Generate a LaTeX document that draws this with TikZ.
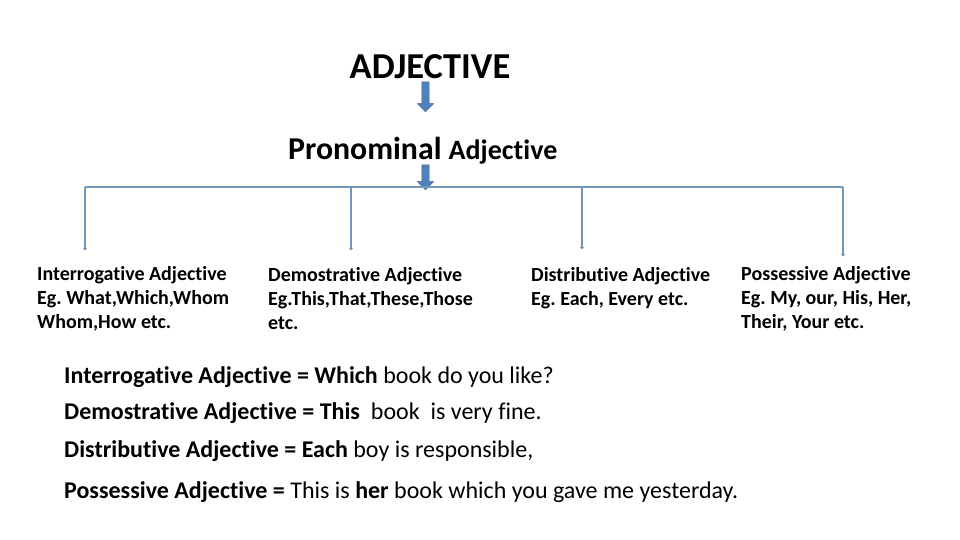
\documentclass[tikz,border=0pt]{standalone}
\usepackage{fontspec}
\setmainfont{Carlito}[Ligatures = {NoCommon}]
\usetikzlibrary{shapes.arrows,arrows.meta}
\definecolor{busline}{RGB}{112,150,186}
\definecolor{arrowfill}{RGB}{79,129,189}
\definecolor{arrowline}{RGB}{60,98,145}
\frenchspacing

\begin{document}
\begin{tikzpicture}[x = 1pt, y = -1pt,
    every node/.style = {inner sep = 0pt, anchor = base west},
    kind/.style = {align = left, font = \bfseries\fontsize{20}{24}\selectfont},
    sentence/.style = {font = \fontsize{24}{28}\selectfont},
    downarrow/.style = {single arrow, draw = arrowline, fill = arrowfill, anchor = center,
        shape border rotate = 270, inner sep = 3.5pt, minimum height = 30pt,
        single arrow head extend = 4.5pt},
    link/.style = {draw = busline, line width = 1.6pt, -{Circle[length = 3pt]}}]
    \useasboundingbox (0,0) rectangle (960,540);
    % headings
    \node[anchor = base, font = \bfseries\fontsize{36.5}{40}\selectfont] (adj) at (430,79) {ADJECTIVE};
    \node[font = \bfseries\fontsize{28}{32}\selectfont] (pron) at (288,160)
        {\fontsize{31.8}{34}\selectfont Pronominal \fontsize{28}{32}\selectfont Adjective};
    \node[downarrow] (a1) at (425.5,95) {};
    \node[downarrow, minimum height = 25pt] (a2) at (425.5,175.5) {};
    % the four kinds
    \node[kind] (interr) at (37,328) {Interrogative Adjective\\Eg. What,Which,Whom\\Whom,How etc.};
    \node[kind] (demo) at (268,329) {Demostrative Adjective\\Eg.This,That,These,Those\\etc.};
    \node[kind] (distr) at (531,305) {Distributive Adjective\\Eg. Each, Every etc.};
    \node[kind] (poss) at (741,328) {Possessive Adjective\\Eg. My, our, His, Her,\\Their, Your etc.};
    % tree lines
    \coordinate (b1) at (85,187);
    \coordinate (b2) at (351,187);
    \coordinate (b3) at (582,187);
    \coordinate (b4) at (843,187);
    \coordinate (d1) at (85,250);
    \coordinate (d2) at (351,250);
    \coordinate (d3) at (582,249);
    \coordinate (d4) at (843,256);
    \draw[draw = busline, line width = 1.6pt] (b1) -- (b4);
    \foreach \i in {1,...,4}
        \draw[link] (b\i) -- (d\i);
    % examples
    \node[sentence] (s1) at (64,383) {\textbf{Interrogative Adjective = Which} book do you like?};
    \node[sentence] (s2) at (64,419) {\textbf{Demostrative Adjective = This}\ \ book\ \ is very fine.};
    \node[sentence] (s3) at (64,457) {\textbf{Distributive Adjective = Each} boy is responsible,};
    \node[sentence] (s4) at (64,498) {\textbf{Possessive Adjective =} This is \textbf{her} book which you gave me yesterday.};
\end{tikzpicture}
\end{document}
